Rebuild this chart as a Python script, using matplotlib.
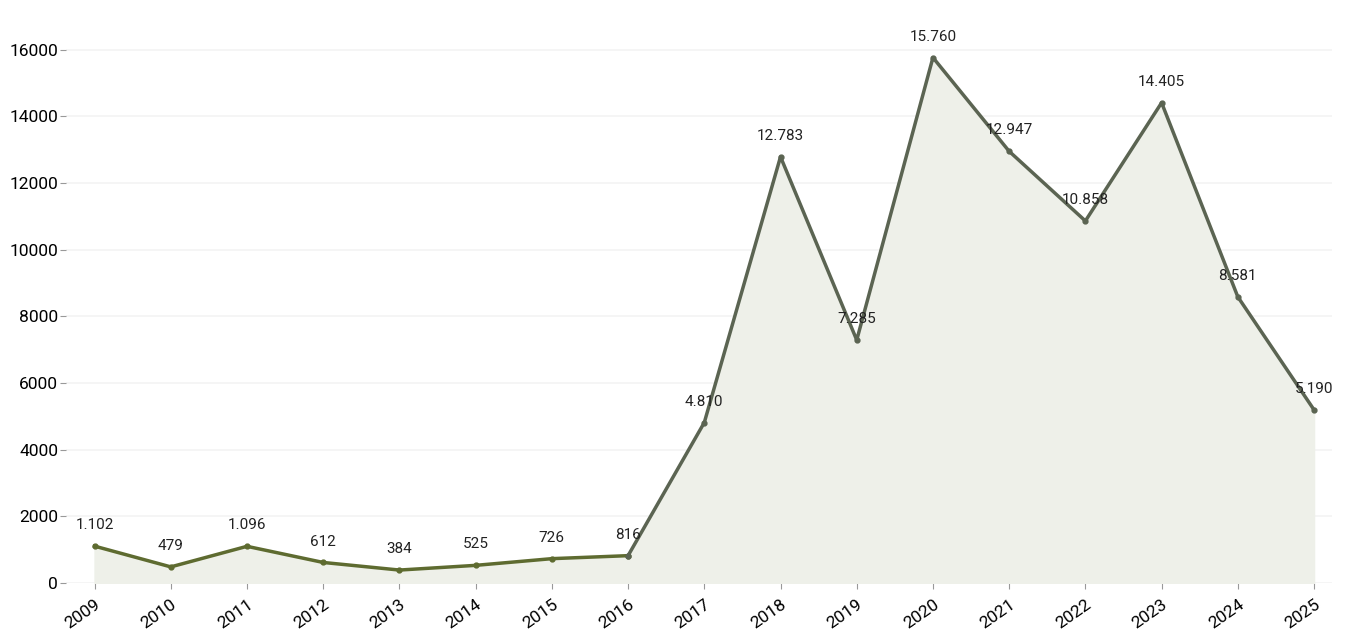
import matplotlib.pyplot as plt

years = [2009, 2010, 2011, 2012, 2013, 2014, 2015, 2016, 2017,
         2018, 2019, 2020, 2021, 2022, 2023, 2024, 2025]
values = [1102, 479, 1096, 612, 384, 525, 726, 816, 4810,
          12783, 7285, 15760, 12947, 10858, 14405, 8581, 5190]

plt.rcParams['font.family'] = ['Roboto', 'DejaVu Sans']

fig = plt.figure(figsize=(13.54, 6.37), dpi=100)
ax = fig.add_axes([0.049, 0.085, 0.935, 0.9])

ax.fill_between(years, values, 0, color='#eef0e9', zorder=1)
# left part olive, right part greyer like the reference
split = 8
ax.plot(years[:split], values[:split], color='#5e6b30', lw=2.5, zorder=3,
        marker='o', ms=3.5)
ax.plot(years[split - 1:], values[split - 1:], color='#5b6452', lw=2.5, zorder=3,
        marker='o', ms=3.5)

for x, v in zip(years, values):
    lab = f"{v:,}".replace(",", ".")
    ax.annotate(lab, (x, v), xytext=(0, 10), textcoords='offset points',
                ha='center', va='bottom', fontsize=11, color='#222222', zorder=4)

ax.set_xlim(2008.63, 2025.24)
ax.set_ylim(0, 17200)
ax.set_yticks(range(0, 16001, 2000))
ax.set_xticks(years)
ax.set_xticklabels([str(y) for y in years], rotation=35, ha='right',
                   rotation_mode='anchor', fontsize=12.5)
ax.tick_params(axis='y', labelsize=12.5, length=4, color='#999999', pad=2)
ax.tick_params(axis='x', length=4, color='#999999', pad=6)
ax.grid(axis='y', color='#f3f3f3', lw=1.2, zorder=0)
ax.set_axisbelow(True)
for s in ax.spines.values():
    s.set_visible(False)

fig.savefig('out.png', dpi=100)
